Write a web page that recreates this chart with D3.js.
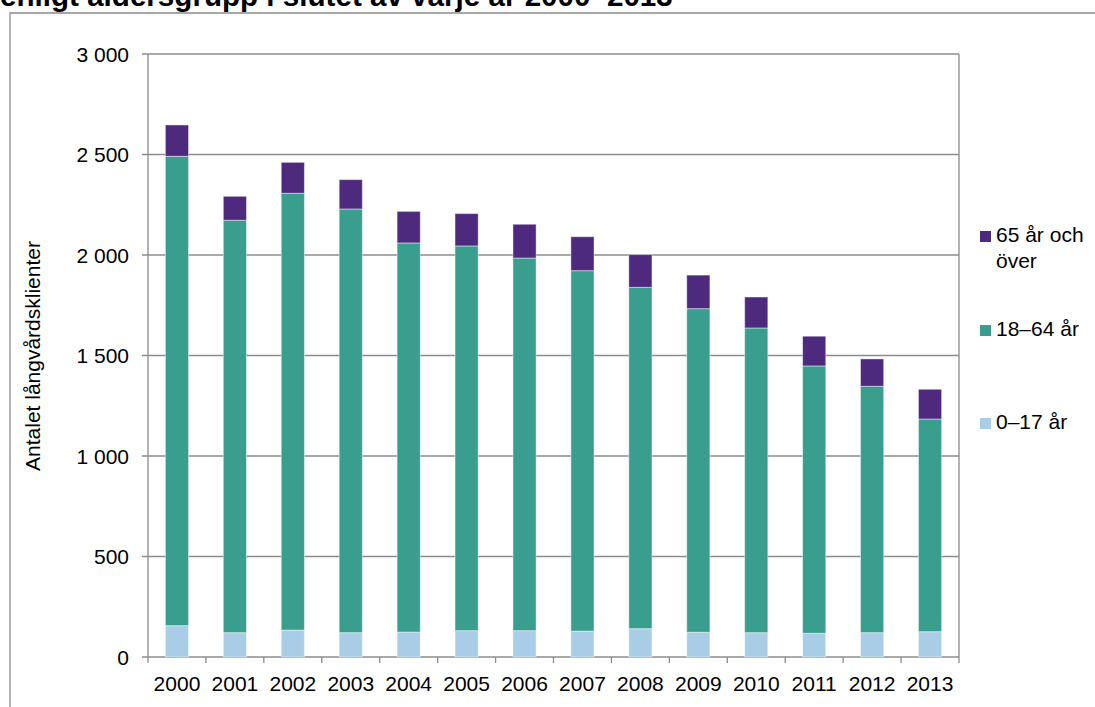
<!DOCTYPE html>
<meta charset="utf-8">
<style>
body {
  margin: 0;
  background: #fff;
}
text {
  font-family: "Liberation Sans", Arial, sans-serif;
  fill: #000;
}
.grid line {
  stroke: #8c8c8c;
  stroke-width: 1.3px;
}
.frame {
  fill: none;
  stroke: #8c8c8c;
  stroke-width: 1.3px;
}
</style>
<svg width="1095" height="707"></svg>
<script src="https://d3js.org/d3.v7.min.js"></script>
<script>
// years and groups
var years = ["2000", "2001", "2002", "2003", "2004", "2005", "2006",
             "2007", "2008", "2009", "2010", "2011", "2012", "2013"];
var keys = ["barn", "vuxna", "aldre"];
var legendLabels = [["65 år och", "över"], ["18–64 år"], ["0–17 år"]];
var yTicks = [0, 500, 1000, 1500, 2000, 2500, 3000];

var barn  = [156, 121, 134, 121, 124, 131, 131, 129, 141, 123, 121, 118, 121, 126];
var vuxna = [2335, 2052, 2173, 2108, 1936, 1914, 1854, 1793, 1698, 1610, 1516, 1330, 1226, 1058];
var aldre = [156, 119, 154, 146, 157, 161, 168, 169, 163, 167, 154, 148, 136, 148];

var colors = { barn: "#a9cde6", vuxna: "#3a9e8e", aldre: "#4e2a7e" };

var svg = d3.select("svg"),
    margin = { top: 54, left: 148 },
    plotW = 959 - margin.left,
    plotH = 657 - margin.top;

// outer frame (cut by the picture edges)
svg.append("path")
    .attr("class", "frame")
    .attr("d", "M10,720V13H1100");

// title, only its lower part is inside the picture
svg.append("text")
    .attr("x", 0)
    .attr("y", 6)
    .style("font-weight", "bold")
    .style("font-size", "29.6px")
    .text("enligt åldersgrupp i slutet av varje år 2000–2013");

var table = years.map(function (y, i) {
  return { year: y, barn: barn[i], vuxna: vuxna[i], aldre: aldre[i] };
});
var series = d3.stack().keys(keys)(table);

var x = d3.scaleBand()
    .domain(years)
    .range([0, plotW])
    .paddingInner(0.6)
    .paddingOuter(0.3);

var y = d3.scaleLinear()
    .domain([0, 3000])
    .range([plotH, 0]);

var g = svg.append("g")
    .attr("transform", "translate(" + margin.left + "," + margin.top + ")");

// gridlines
g.append("g")
    .attr("class", "grid")
  .selectAll("line")
    .data(yTicks)
  .enter().append("line")
    .attr("x1", -6)
    .attr("x2", plotW)
    .attr("y1", function (d) { return y(d); })
    .attr("y2", function (d) { return y(d); });

// right border + left axis
g.append("g").attr("class", "grid")
  .selectAll("line")
    .data([0, plotW])
  .enter().append("line")
    .attr("x1", function (d) { return d; })
    .attr("x2", function (d) { return d; })
    .attr("y1", 0)
    .attr("y2", plotH);

// x ticks at the band boundaries
g.append("g").attr("class", "grid")
  .selectAll("line")
    .data(d3.range(years.length + 1))
  .enter().append("line")
    .attr("x1", function (i) { return i * x.step(); })
    .attr("x2", function (i) { return i * x.step(); })
    .attr("y1", plotH)
    .attr("y2", plotH + 6);

g.append("g")
  .selectAll("text")
    .data(yTicks)
  .enter().append("text")
    .attr("x", -19)
    .attr("y", function (d) { return y(d) + 7.5; })
    .attr("text-anchor", "end")
    .style("font-size", "21px")
    .text(function (d) { return d3.format(",")(d).replace(",", " "); });

g.append("g")
  .selectAll("text")
    .data(years)
  .enter().append("text")
    .attr("x", function (d) { return x(d) + x.bandwidth() / 2; })
    .attr("y", plotH + 34)
    .attr("text-anchor", "middle")
    .style("font-size", "21px")
    .text(function (d) { return d; });

// bars
g.append("g")
  .selectAll("g")
    .data(series)
  .enter().append("g")
    .attr("fill", function (d) { return colors[d.key]; })
  .selectAll("rect")
    .data(function (d) { return d; })
  .enter().append("rect")
    .attr("x", function (d) { return x(d.data.year); })
    .attr("y", function (d) { return y(d[1]); })
    .attr("width", x.bandwidth())
    .attr("height", function (d) { return y(d[0]) - y(d[1]); })
    .attr("stroke", "#fff")
    .attr("stroke-opacity", 0.45)
    .attr("stroke-width", 1);

svg.append("text")
    .attr("transform", "translate(40,356) rotate(-90)")
    .attr("text-anchor", "middle")
    .style("font-size", "21px")
    .text("Antalet långvårdsklienter");

// legend
var legendKeys = ["aldre", "vuxna", "barn"];
var legendY = [242, 336, 429];
var legend = svg.append("g")
  .selectAll("g")
    .data(legendKeys)
  .enter().append("g")
    .attr("transform", function (d, i) { return "translate(980," + legendY[i] + ")"; });

legend.append("rect")
    .attr("x", 0)
    .attr("y", -11)
    .attr("width", 11)
    .attr("height", 11)
    .attr("fill", function (d) { return colors[d]; });

legend.append("text")
    .attr("x", 16)
    .style("font-size", "21px")
  .selectAll("tspan")
    .data(function (d, i) { return legendLabels[i]; })
  .enter().append("tspan")
    .attr("x", 16)
    .attr("dy", function (d, i) { return i ? 26 : 0; })
    .text(function (d) { return d; });
</script>
